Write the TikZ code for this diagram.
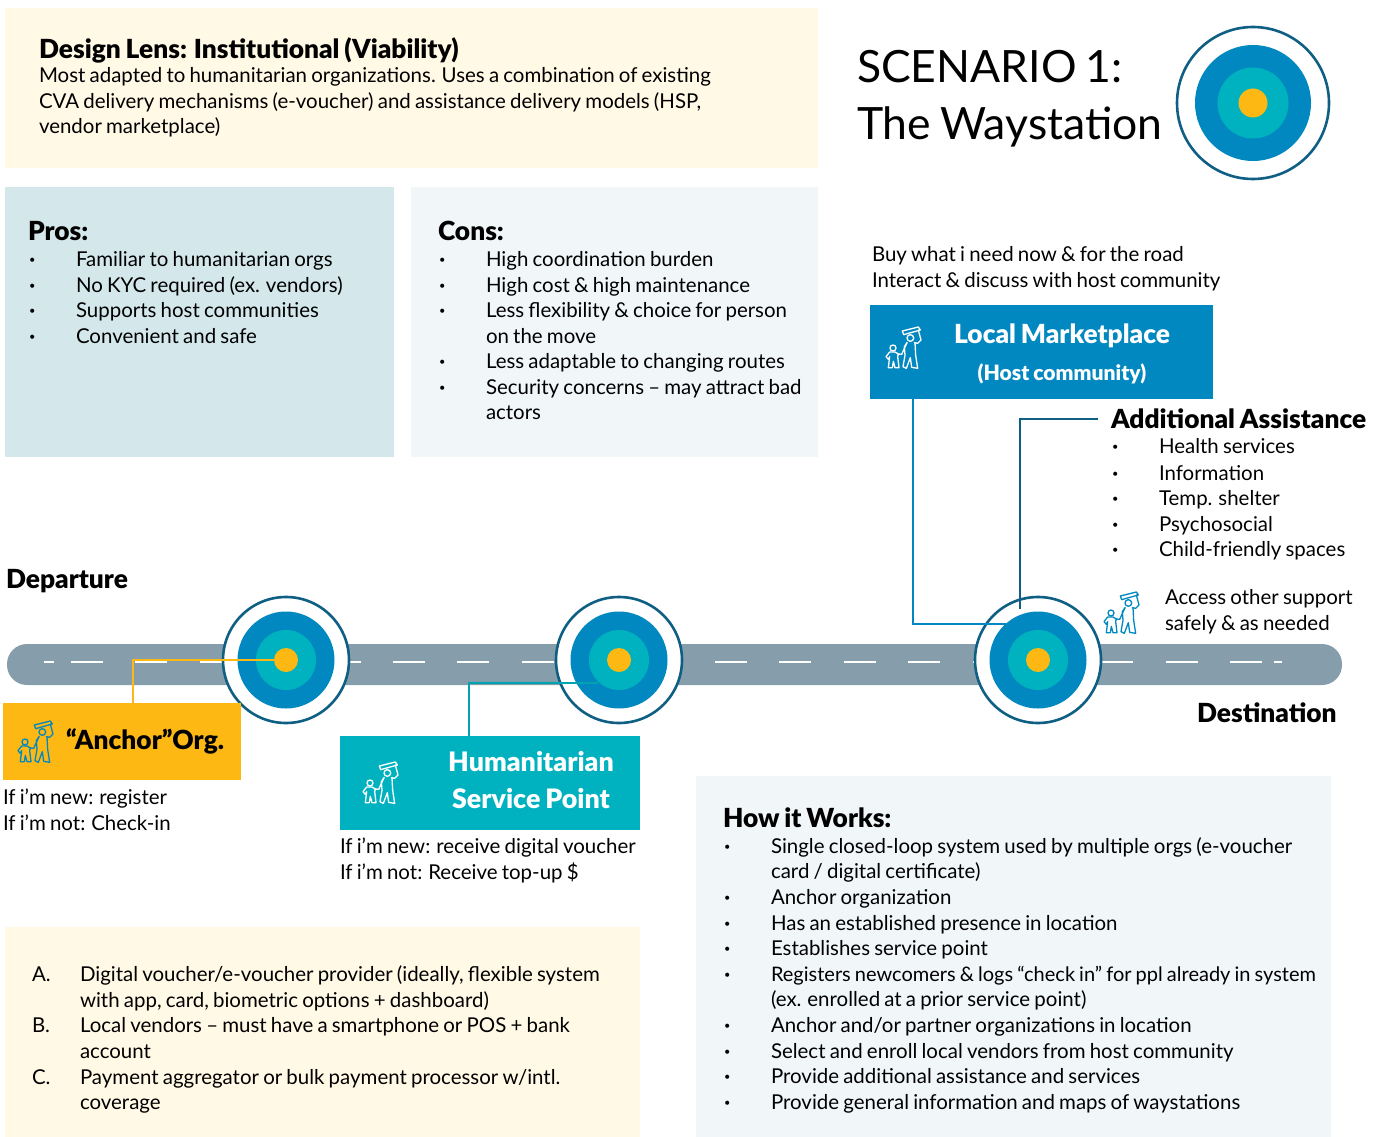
\documentclass[tikz,border=0pt]{standalone}
\usepackage{fontspec}
\setmainfont{Lato}[WordSpace=0.8,BoldFont={Lato Black}]
\definecolor{cream}{HTML}{FFF9E6}
\definecolor{prosbg}{HTML}{D4E8EC}
\definecolor{consbg}{HTML}{F1F6F9}
\definecolor{road}{HTML}{869EAB}
\definecolor{dkblue}{HTML}{0F5F85}
\definecolor{midblue}{HTML}{0288C0}
\definecolor{tealc}{HTML}{00B2BF}
\definecolor{yell}{HTML}{FDB813}
\newcommand{\bodyf}{\fontsize{20.45}{25}\selectfont}
\newcommand{\headf}{\fontsize{26.3}{30}\bfseries\selectfont}
\tikzset{
 x=1pt,y=-1pt,
 panel/.style={inner sep=0,outer sep=0,draw=none,rectangle},
 txt/.style={inner sep=0,outer sep=0,anchor=base west,font=\bodyf},
 bul/.style={inner sep=0,outer sep=0,anchor=base west,font=\fontsize{11}{12}\selectfont,xshift=1pt,yshift=2.5pt},
 head/.style={inner sep=0,outer sep=0,anchor=base west,font=\headf,yshift=-0.7pt},
 chead/.style={inner sep=0,outer sep=0,anchor=base,font=\headf,text=white,yshift=-0.7pt},
 dash line/.style={white,line width=2.5pt},
 ringc/.style={circle,inner sep=0,outer sep=0,fill=white,draw=dkblue,line width=2.6pt},
 disc/.style={circle,inner sep=0,outer sep=0},
 conn/.style={line width=2.7pt},
 pics/walker/.style={code={
  \begin{scope}[scale=0.3333,line width=1.3pt,draw=#1,line join=round,line cap=round]
   \draw (52,15) -- (100,3) -- (106,12) -- (56,26) -- cycle;
   \draw (100,12) -- (108,42) -- (98,52) -- (88,50);
   \draw (76,36) circle (10);
   \draw (66,50) -- (58,62) -- (60,88) -- (54,122) -- (64,127) -- (76,95) -- (80,124) -- (98,127) -- (92,88) -- (90,50);
   \draw (66,50) -- (50,85) -- (40,84);
   \draw (24,66) circle (9);
   \draw (14,78) -- (3,92) -- (10,100) -- (14,92) -- (10,125) -- (22,125) -- (25,106) -- (30,125) -- (42,125) -- (38,92) -- (40,84) -- (30,78) -- cycle;
  \end{scope}}},
}
\begin{document}
\begin{tikzpicture}
\useasboundingbox (0,0) rectangle (1384,1137);
% panels
\node[panel,fill=cream,minimum width=813pt,minimum height=160pt] (lens) at (411.5,88) {};
\node[panel,fill=prosbg,minimum width=389pt,minimum height=270pt] (pros) at (199.5,322) {};
\node[panel,fill=consbg,minimum width=407pt,minimum height=270pt] (cons) at (614.5,322) {};
\node[panel,fill=cream,minimum width=635pt,minimum height=210pt] (vendors) at (322.5,1032) {};
\node[panel,fill=consbg,minimum width=635pt,minimum height=361pt] (how) at (1013.5,956.5) {};
% top text
\node[head] (lensh) at (39,58) {Design Lens: Institutional (Viability)};
\foreach \n/\y/\t in {a/83/{Most adapted to humanitarian organizations. Uses a combination of existing},b/109/{CVA delivery mechanisms (e-voucher) and assistance delivery models (HSP,},c/134/{vendor marketplace)}}
  \node[txt] (lens\n) at (39,\y) {\t};
% title
\node[txt,font=\fontsize{44.5}{50}\selectfont] (title1) at (857,83) {SCENARIO 1:};
\node[txt,font=\fontsize{44.5}{50}\selectfont] (title2) at (857,140) {The Waystation};
\node[ringc,minimum size=152pt] (big0) at (1253,103) {};
\node[disc,fill=midblue,minimum size=116pt] (big1) at (1253,103) {};
\node[disc,fill=tealc,minimum size=71pt] (big2) at (1253,103) {};
\node[disc,fill=yell,minimum size=29pt] (big3) at (1253,103) {};
% pros
\node[head] (prosh) at (28,240) {Pros:};
\foreach \n/\y/\t in {a/266/{Familiar to humanitarian orgs},b/292/{No KYC required (ex. vendors)},c/317/{Supports host communities},d/343/{Convenient and safe}}{
  \node[bul] (prosb\n) at (28,\y) {•};
  \node[txt] (pros\n) at (76,\y) {\t};
}
% cons
\node[head] (consh) at (438,240) {Cons:};
\foreach \n/\y/\t in {a/266/{High coordination burden},b/292/{High cost \& high maintenance},c/317/{Less flexibility \& choice for person},e/368/{Less adaptable to changing routes},f/394/{Security concerns – may attract bad}}{
  \node[bul] (consb\n) at (438,\y) {•};
  \node[txt] (cons\n) at (486,\y) {\t};
}
\node[txt] (consd) at (486,343) {on the move};
\node[txt] (consg) at (486,419) {actors};
% road
\node[panel,fill=road,minimum width=1335pt,minimum height=41pt,rounded corners=20pt] (roadn) at (674.5,664.5) {};
\draw[dash line] (44,662) -- (54,662);
\foreach \k in {0,...,18}
  \draw[dash line] ({71+64.4*\k},662) -- ({103+64.4*\k},662);
\draw[dash line] (1274,662) -- (1282,662);
% targets
\foreach \n/\x in {p/286,q/619,r/1038}{
  \node[ringc,minimum size=126pt] (\n0) at (\x,660) {};
  \node[disc,fill=midblue,minimum size=97pt] (\n1) at (\x,660) {};
  \node[disc,fill=tealc,minimum size=60pt] (\n2) at (\x,660) {};
  \node[disc,fill=yell,minimum size=24pt] (\n3) at (\x,660) {};
}
% boxes
\node[panel,fill=yell,minimum width=238pt,minimum height=77pt] (anchorbox) at (122,741.5) {};
\node[panel,fill=tealc,minimum width=300pt,minimum height=94pt] (hsp) at (490,783) {};
\node[panel,fill=midblue,minimum width=343pt,minimum height=94pt] (market) at (1041.5,352) {};
% connectors
\coordinate (ax) at (133,660);
\draw[conn,yell] (anchorbox.north -| ax) -- (ax) -- (p3.center);
\coordinate (hx) at (469,683);
\coordinate (hy) at (598,683);
\draw[conn,color=tealc!92!black] (hsp.north -| hx) -- (hx) -- (hy);
\coordinate (mx) at (913,624);
\coordinate (my) at (1006,624);
\draw[conn,midblue] (market.south -| mx) -- (mx) -- (my);
\coordinate (dx) at (1020,419);
\coordinate (dy) at (1020,609);
\coordinate (dz) at (1098,419);
\draw[conn,dkblue] (dz) -- (dx) -- (dy);
% box labels
\node[head] (anchort) at (66,749) {“Anchor”Org.};
\node[chead,font=\fontsize{26.8}{30}\bfseries\selectfont] (hsp1) at (531,771) {Humanitarian};
\node[chead,font=\fontsize{26.8}{30}\bfseries\selectfont] (hsp2) at (531,808) {Service Point};
\node[chead] (m1) at (1062,343) {Local Marketplace};
\node[chead,font=\fontsize{21.1}{24}\bfseries\selectfont] (m2) at (1062,380) {(Host community)};
\pic at (17,720) {walker=midblue};
\pic at (362,761) {walker=white};
\pic at (885,326) {walker=white};
\pic at (1103,591) {walker=midblue};
% misc labels
\node[txt] (buy1) at (872,261) {Buy what i need now \& for the road};
\node[txt] (buy2) at (872,287) {Interact \& discuss with host community};
\node[head] (addh) at (1111,428) {Additional Assistance};
\foreach \n/\y/\t in {a/453/{Health services},b/480/{Information},c/505/{Temp. shelter},d/531/{Psychosocial},e/556/{Child-friendly spaces}}{
  \node[bul] (addb\n) at (1111,\y) {•};
  \node[txt] (add\n) at (1159,\y) {\t};
}
\node[txt] (acc1) at (1165,604) {Access other support};
\node[txt] (acc2) at (1165,630) {safely \& as needed};
\node[head] (dep) at (6,588) {Departure};
\node[head] (dest) at (1197,722) {Destination};
\node[txt] (n1) at (3,804) {If i’m new: register};
\node[txt] (n2) at (3,830) {If i’m not: Check-in};
\node[txt] (n3) at (340,853) {If i’m new: receive digital voucher};
\node[txt] (n4) at (340,879) {If i’m not: Receive top-up \$};
% vendors
\foreach \n/\y/\l/\t in {a/981/A./{Digital voucher/e-voucher provider (ideally, flexible system},b/1007//{with app, card, biometric options + dashboard)},c/1032/B./{Local vendors – must have a smartphone or POS + bank},d/1058//{account},e/1084/C./{Payment aggregator or bulk payment processor w/intl.},f/1109//{coverage}}{
  \node[txt] (vl\n) at (32,\y) {\l};
  \node[txt] (v\n) at (80,\y) {\t};
}
% how it works
\node[head] (howh) at (723,827) {How it Works:};
\foreach \n/\y/\t in {a/853/{Single closed-loop system used by multiple orgs (e-voucher},c/904/{Anchor organization},d/930/{Has an established presence in location},e/955/{Establishes service point},h/1032/{Anchor and/or partner organizations in location},i/1058/{Select and enroll local vendors from host community},j/1083/{Provide additional assistance and services},k/1109/{Provide general information and maps of waystations}}{
  \node[bul] (howb\n) at (723,\y) {•};
  \node[txt] (how\n) at (771,\y) {\t};
}
\node[bul] (howbf) at (723,981) {•};
\node[txt,font=\fontsize{20}{25}\selectfont] (howf) at (771,981) {Registers newcomers \& logs “check in” for ppl already in system};
\node[txt] (howb) at (771,878) {card / digital certificate)};
\node[txt] (howg) at (771,1006) {(ex. enrolled at a prior service point)};
\end{tikzpicture}
\end{document}
